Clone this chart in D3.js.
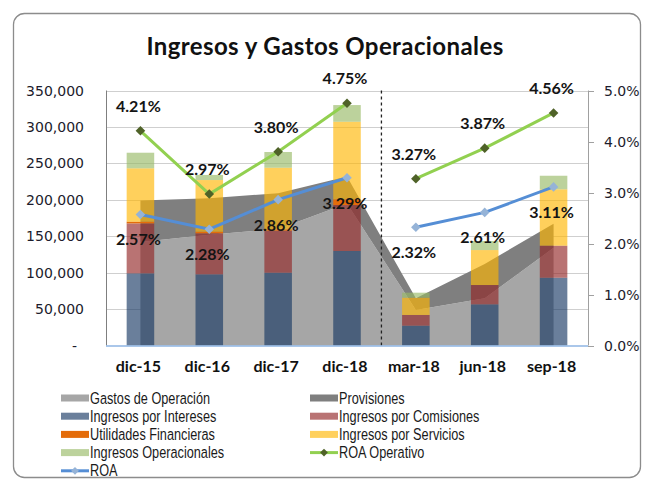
<!DOCTYPE html>
<html>
<head>
<meta charset="utf-8">
<script src="https://cdn.jsdelivr.net/npm/d3@7"></script>
<style>
  body { margin: 0; background: #fff; }
  svg { display: block; }
</style>
</head>
<body>
<div id="chart"></div>
<script>
// data
var categories = ["dic-15", "dic-16", "dic-17", "dic-18", "mar-18", "jun-18", "sep-18"];
var periodo = ["anual", "anual", "anual", "anual", "trim", "trim", "trim"];

// areas (stacked)
var gastos = [142000, 152000, 160000, 195000, 48700, 65000, 134000];
var provisiones = [57000, 50000, 49000, 37000, 16000, 47000, 33000];

// stacked columns
var intereses = [99000, 97700, 99900, 129700, 27200, 56500, 93000];
var comisiones = [68600, 56300, 57700, 63100, 14700, 26500, 44000];
var utilidades = [2300, 2200, 1800, 7800, 0, 0, 0];
var servicios = [73300, 70900, 84600, 106500, 23700, 48000, 77400];
var operacionales = [21400, 7000, 21600, 22900, 6900, 12400, 18600];

// lines (%)
var roaOperativo = [4.21, 2.97, 3.80, 4.75, 3.27, 3.87, 4.56];
var roa = [2.57, 2.28, 2.86, 3.29, 2.32, 2.61, 3.11];

var leftTicks = [0, 50000, 100000, 150000, 200000, 250000, 300000, 350000];
var rightTicks = [0, 1, 2, 3, 4, 5];

var W = 654, H = 479;
var cfg = {
    left: 106, right: 588, top: 90.5, bottom: 345.5,
    barOpacity: 0.64
};

var svg = d3.select("#chart").append("svg")
    .attr("width", W)
    .attr("height", H)
    .style("font-family", "Lato, sans-serif");

// chart frame
svg.append("rect")
    .attr("x", 13.5).attr("y", 13.5)
    .attr("width", 627).attr("height", 464)
    .attr("rx", 11)
    .attr("fill", "#fff")
    .attr("stroke", "#8c8c8c")
    .attr("stroke-width", 1.3);

svg.append("text")
    .attr("x", 325).attr("y", 55)
    .attr("text-anchor", "middle")
    .style("font-weight", "bold")
    .style("font-size", "24px")
    .style("letter-spacing", "0.4px")
    .attr("fill", "#111")
    .text("Ingresos y Gastos Operacionales");

var x = d3.scaleBand()
    .domain(categories)
    .range([cfg.left, cfg.right])
    .paddingInner(0.6)
    .paddingOuter(0.3);

var y = d3.scaleLinear().domain([0, 350000]).range([cfg.bottom, cfg.top]);
var y2 = d3.scaleLinear().domain([0, 5]).range([cfg.bottom, cfg.top]);
var cx = function (d) { return x(d) + x.bandwidth() / 2; };

// gridlines
svg.append("g").selectAll("line")
    .data(leftTicks.slice(1))
    .enter().append("line")
    .attr("x1", cfg.left).attr("x2", cfg.right)
    .attr("y1", function (d) { return Math.round(y(d)) + 0.5; })
    .attr("y2", function (d) { return Math.round(y(d)) + 0.5; })
    .attr("stroke", "#cfcfcf")
    .attr("stroke-width", 1);

// stacked areas: gastos + provisiones
var areaRows = categories.map(function (c, i) {
    return { cat: c, gastos: gastos[i], provisiones: provisiones[i] };
});
var areaStack = d3.stack().keys(["gastos", "provisiones"])(areaRows);
var areaColors = { gastos: "#a6a6a6", provisiones: "#7f7f7f" };

var area = d3.area()
    .x(function (d) { return cx(d.data.cat); })
    .y0(function (d) { return y(d[0]); })
    .y1(function (d) { return y(d[1]); });

svg.append("g").selectAll("path")
    .data(areaStack)
    .enter().append("path")
    .attr("d", area)
    .attr("fill", function (d) { return areaColors[d.key]; });

// stacked columns
var barRows = categories.map(function (c, i) {
    return {
        cat: c,
        intereses: intereses[i],
        comisiones: comisiones[i],
        utilidades: utilidades[i],
        servicios: servicios[i],
        operacionales: operacionales[i]
    };
});
var barKeys = ["intereses", "comisiones", "utilidades", "servicios", "operacionales"];
var barColors = {
    intereses: "rgb(22,55,99)",
    comisiones: "rgb(146,36,36)",
    utilidades: "#e46c0a",
    servicios: "rgb(255,181,0)",
    operacionales: "rgb(150,185,100)"
};
var barAlpha = { intereses: cfg.barOpacity, comisiones: cfg.barOpacity, utilidades: 1, servicios: cfg.barOpacity, operacionales: cfg.barOpacity };

var barStack = d3.stack().keys(barKeys)(barRows);

svg.append("g").selectAll("g")
    .data(barStack)
    .enter().append("g")
    .attr("fill", function (d) { return barColors[d.key]; })
    .attr("fill-opacity", function (d) { return barAlpha[d.key]; })
    .selectAll("rect")
    .data(function (d) { return d; })
    .enter().append("rect")
    .attr("x", function (d) { return x(d.data.cat); })
    .attr("width", x.bandwidth())
    .attr("y", function (d) { return y(d[1]); })
    .attr("height", function (d) { return y(d[0]) - y(d[1]); });

// dashed separator between annual and quarterly data
var sepX = (cx("dic-18") + cx("mar-18")) / 2;
svg.append("line")
    .attr("x1", sepX).attr("x2", sepX)
    .attr("y1", cfg.top).attr("y2", cfg.bottom)
    .attr("stroke", "#222")
    .attr("stroke-width", 1.3)
    .attr("stroke-dasharray", "3,3");

// axes lines
svg.append("line")
    .attr("x1", cfg.left + 0.5).attr("x2", cfg.left + 0.5)
    .attr("y1", cfg.top).attr("y2", cfg.bottom)
    .attr("stroke", "#7f7f7f");
svg.append("line")
    .attr("x1", cfg.right + 0.5).attr("x2", cfg.right + 0.5)
    .attr("y1", cfg.top).attr("y2", cfg.bottom)
    .attr("stroke", "#a0a0a0");
svg.append("line")
    .attr("x1", cfg.left).attr("x2", cfg.right)
    .attr("y1", cfg.bottom + 0.5).attr("y2", cfg.bottom + 0.5)
    .attr("stroke", "#8eb4e3")
    .attr("stroke-width", 1.5);

// left axis labels
var fmt = d3.format(",");
svg.append("g").selectAll("text")
    .data(leftTicks)
    .enter().append("text")
    .attr("x", function (d) { return d === 0 ? 77 : 84; })
    .attr("y", function (d) { return y(d) + 5; })
    .attr("text-anchor", "end")
    .style("font-family", "'DejaVu Sans', sans-serif")
    .style("font-size", "14px")
    .attr("fill", "#1c1c2c")
    .text(function (d) { return d === 0 ? "-" : fmt(d); });

// right axis ticks and labels
svg.append("g").selectAll("line")
    .data(rightTicks)
    .enter().append("line")
    .attr("x1", cfg.right).attr("x2", cfg.right + 6)
    .attr("y1", function (d) { return Math.round(y2(d)) + 0.5; })
    .attr("y2", function (d) { return Math.round(y2(d)) + 0.5; })
    .attr("stroke", "#a0a0a0");
svg.append("g").selectAll("text")
    .data(rightTicks)
    .enter().append("text")
    .attr("x", 604)
    .attr("y", function (d) { return y2(d) + 5; })
    .style("font-family", "'DejaVu Sans', sans-serif")
    .style("font-size", "14px")
    .attr("fill", "#1c1c2c")
    .text(function (d) { return d.toFixed(1) + "%"; });

// category labels
svg.append("g").selectAll("text")
    .data(categories)
    .enter().append("text")
    .attr("x", function (d) { return cx(d) - 2; })
    .attr("y", 372)
    .attr("text-anchor", "middle")
    .style("font-weight", "bold")
    .style("font-size", "16px")
    .attr("fill", "#111")
    .text(function (d) { return d; });

// lines, broken between annual and quarterly
var diamond = d3.symbol().type(d3.symbolSquare).size(46);

function drawLine(values, stroke, markerFill) {
    var pts = categories.map(function (c, i) { return { cat: c, v: values[i], p: periodo[i] }; });
    var groups = d3.groups(pts, function (d) { return d.p; });
    var line = d3.line()
        .x(function (d) { return cx(d.cat); })
        .y(function (d) { return y2(d.v); });
    var g = svg.append("g");
    groups.forEach(function (grp) {
        g.append("path")
            .attr("d", line(grp[1]))
            .attr("fill", "none")
            .attr("stroke", stroke)
            .attr("stroke-width", 3);
    });
    g.selectAll(".mk")
        .data(pts)
        .enter().append("path")
        .attr("d", diamond)
        .attr("transform", function (d) { return "translate(" + cx(d.cat) + "," + y2(d.v) + ") rotate(45)"; })
        .attr("fill", markerFill);
    return pts;
}

var ptsOp = drawLine(roaOperativo, "#92d050", "#4f6228");
var ptsRoa = drawLine(roa, "#558ed5", "#95b3d7");

function drawLabels(pts, dy) {
    svg.append("g").selectAll("text")
        .data(pts)
        .enter().append("text")
        .attr("x", function (d) { return cx(d.cat) - 2; })
        .attr("y", function (d) { return y2(d.v) + dy; })
        .attr("text-anchor", "middle")
        .style("font-weight", "bold")
        .style("font-size", "16px")
        .attr("fill", "#141414")
        .text(function (d) { return d.v.toFixed(2) + "%"; });
}
drawLabels(ptsOp, -19);
drawLabels(ptsRoa, 31);

// legend
var legendItems = [
    { name: "Gastos de Operación", type: "rect", color: "#a6a6a6", op: 1 },
    { name: "Provisiones", type: "rect", color: "#7f7f7f", op: 1 },
    { name: "Ingresos por Intereses", type: "rect", color: barColors.intereses, op: cfg.barOpacity },
    { name: "Ingresos por Comisiones", type: "rect", color: barColors.comisiones, op: cfg.barOpacity },
    { name: "Utilidades Financieras", type: "rect", color: barColors.utilidades, op: 1 },
    { name: "Ingresos por Servicios", type: "rect", color: barColors.servicios, op: cfg.barOpacity },
    { name: "Ingresos Operacionales", type: "rect", color: barColors.operacionales, op: cfg.barOpacity },
    { name: "ROA Operativo", type: "line", color: "#92d050", marker: "#4f6228" },
    { name: "ROA", type: "line", color: "#558ed5", marker: "#95b3d7" }
];

var leg = svg.append("g").selectAll("g")
    .data(legendItems)
    .enter().append("g")
    .attr("transform", function (d, i) {
        var col = i % 2, row = Math.floor(i / 2);
        return "translate(" + (col === 0 ? 61 : 310) + "," + (398 + row * 18.2) + ")";
    });

leg.filter(function (d) { return d.type === "rect"; })
    .append("rect")
    .attr("x", 0).attr("y", -3.5)
    .attr("width", 28).attr("height", 7)
    .attr("fill", function (d) { return d.color; })
    .attr("fill-opacity", function (d) { return d.op; });

var legLines = leg.filter(function (d) { return d.type === "line"; });
legLines.append("line")
    .attr("x1", 0).attr("x2", 28)
    .attr("y1", 0).attr("y2", 0)
    .attr("stroke", function (d) { return d.color; })
    .attr("stroke-width", 3);
legLines.append("path")
    .attr("d", d3.symbol().type(d3.symbolSquare).size(30))
    .attr("transform", "translate(14,0) rotate(45)")
    .attr("fill", function (d) { return d.marker; });

// narrow-looking legend text: squeeze horizontally
leg.append("text")
    .attr("transform", "translate(29,5.5) scale(0.77,1)")
    .style("font-family", "'Liberation Sans', Arial, sans-serif")
    .style("font-size", "16.5px")
    .attr("fill", "#1a1a1a")
    .text(function (d) { return d.name; });
</script>
</body>
</html>
